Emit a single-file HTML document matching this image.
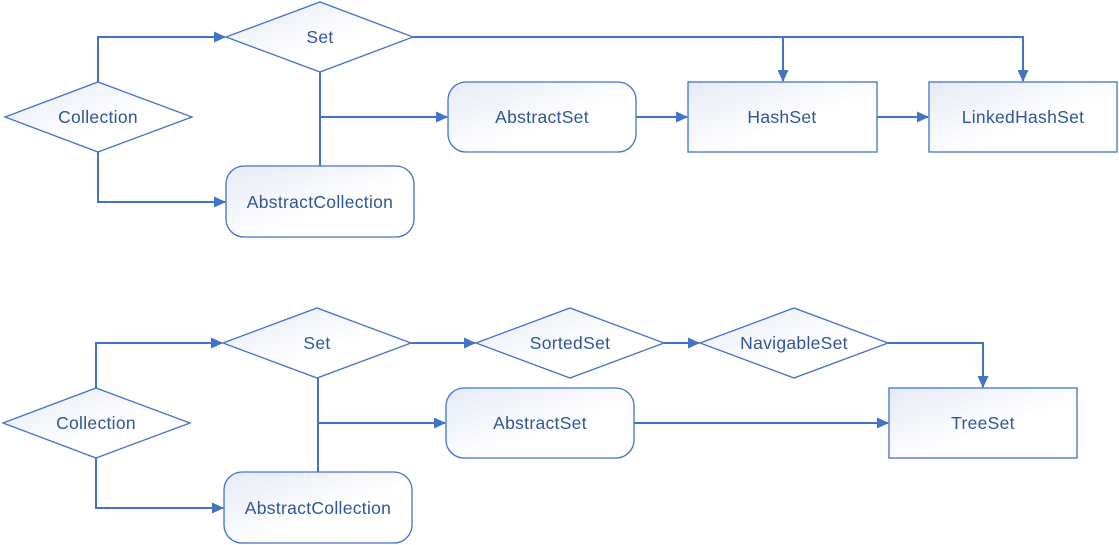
<!DOCTYPE html>
<html><head><meta charset="utf-8"><style>body{margin:0;background:#fff}svg{display:block}text{font-family:"Liberation Sans",sans-serif;font-size:17.5px;letter-spacing:0.3px;fill:#2f5597;text-anchor:middle;dominant-baseline:central}</style></head><body>
<svg width="1119" height="545" viewBox="0 0 1119 545">
<defs>
<linearGradient id="g" x1="0" y1="0" x2="1" y2="1"><stop offset="0" stop-color="#e6eaf6"/><stop offset="0.6" stop-color="#ffffff"/></linearGradient>
<marker id="a" markerWidth="12" markerHeight="12" refX="11" refY="6" orient="auto" markerUnits="userSpaceOnUse"><path d="M0,0.5 L12,6 L0,11.5 z" fill="#4472c4"/></marker>
</defs>
<g fill="none" stroke="#4472c4" stroke-width="2">
<polyline points="98,82 98,37 225,37" marker-end="url(#a)"/>
<polyline points="98,152 98,202 225,202" marker-end="url(#a)"/>
<line x1="320" y1="72" x2="320" y2="166"/>
<line x1="320" y1="117" x2="447" y2="117" marker-end="url(#a)"/>
<line x1="636" y1="117" x2="687" y2="117" marker-end="url(#a)"/>
<line x1="877" y1="117" x2="928" y2="117" marker-end="url(#a)"/>
<polyline points="413,37 1023,37 1023,81" marker-end="url(#a)"/>
<line x1="783" y1="37" x2="783" y2="81" marker-end="url(#a)"/>
<polyline points="96,388 96,343 222,343" marker-end="url(#a)"/>
<polyline points="96,458 96,508 223,508" marker-end="url(#a)"/>
<line x1="318" y1="378" x2="318" y2="472"/>
<line x1="318" y1="423" x2="445" y2="423" marker-end="url(#a)"/>
<line x1="634" y1="423" x2="888" y2="423" marker-end="url(#a)"/>
<line x1="411" y1="343" x2="475" y2="343" marker-end="url(#a)"/>
<line x1="664" y1="343" x2="699" y2="343" marker-end="url(#a)"/>
<polyline points="888,343 983,343 983,387" marker-end="url(#a)"/>
</g>
<g fill="url(#g)" stroke="#4472c4" stroke-width="1.3">
<polygon points="5,117 98,82 192,117 98,152"/>
<polygon points="226,37 320,2 413,37 320,72"/>
<rect x="226" y="166" width="188" height="71" rx="18"/>
<rect x="448" y="82" width="188" height="70" rx="18"/>
<rect x="688" y="82" width="189" height="70"/>
<rect x="929" y="82" width="188" height="70"/>
<polygon points="3,423 96,388 190,423 96,458"/>
<polygon points="223,343 317,308 411,343 317,378"/>
<rect x="224" y="472" width="188" height="71" rx="18"/>
<rect x="446" y="388" width="188" height="70" rx="18"/>
<polygon points="476,343 570,308 664,343 570,378"/>
<polygon points="700,343 794,308 888,343 794,378"/>
<rect x="889" y="388" width="188" height="70"/>
</g>
<text x="98" y="117">Collection</text>
<text x="320" y="37">Set</text>
<text x="320" y="202">AbstractCollection</text>
<text x="542" y="117">AbstractSet</text>
<text x="782" y="117">HashSet</text>
<text x="1023" y="117">LinkedHashSet</text>
<text x="96" y="423">Collection</text>
<text x="317" y="343">Set</text>
<text x="318" y="508">AbstractCollection</text>
<text x="540" y="423">AbstractSet</text>
<text x="570" y="343">SortedSet</text>
<text x="794" y="343">NavigableSet</text>
<text x="983" y="423">TreeSet</text>
</svg>
</body></html>
